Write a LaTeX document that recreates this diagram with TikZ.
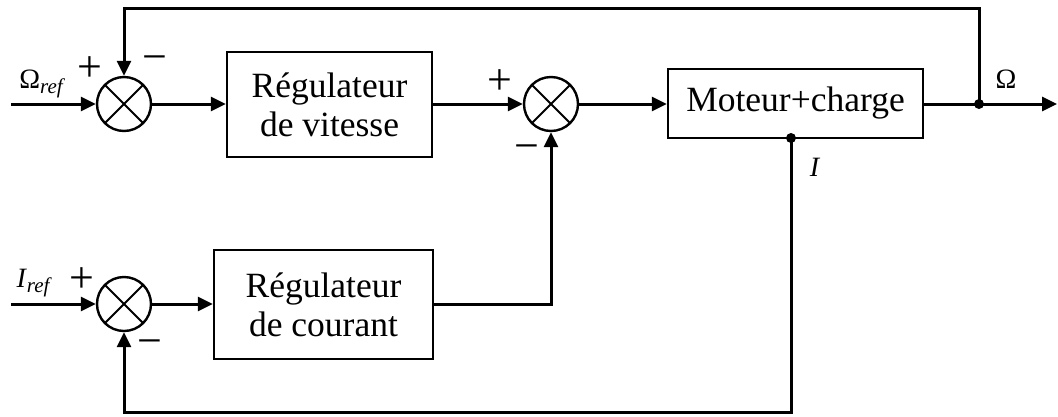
\documentclass[tikz,border=0pt]{standalone}
\usepackage{fontspec}
\setmainfont{Liberation Serif}
\usetikzlibrary{arrows.meta,calc}
\begin{document}
\begin{tikzpicture}[x=1pt,y=-1pt,
  blk/.style={draw,line width=2.4pt,inner sep=0pt,font=\fontsize{35.5}{39}\selectfont,align=center},
  sumc/.style={draw,line width=2.4pt,circle,minimum size=54pt,inner sep=0pt,
    path picture={\draw[line width=2pt] (path picture bounding box.north west)--(path picture bounding box.south east)
      (path picture bounding box.north east)--(path picture bounding box.south west);}},
  con/.style={line width=3pt},
  arr/.style={con,-{Triangle[length=15pt,width=14pt]}},
  sgn/.style={font=\fontsize{44}{44}\selectfont,inner sep=0pt},
  lbl/.style={font=\fontsize{28}{28}\selectfont,inner sep=0pt},
  jdot/.style={circle,fill,minimum size=10pt,inner sep=0pt}]
\useasboundingbox (0,0) rectangle (1058,416);
% sum junctions
\node[sumc] (s1) at (124,104) {};
\node[sumc] (s2) at (551,104) {};
\node[sumc] (s3) at (124,304) {};
% blocks
\node[blk,minimum width=205pt,minimum height=105pt] (b1) at (329.5,104.5) {Régulateur\\de vitesse};
\node[blk,minimum width=255pt,minimum height=69pt] (m) at (795.5,103.5) {Moteur+charge};
\node[blk,minimum width=219pt,minimum height=109pt] (b2) at (323.5,304.5) {Régulateur\\de courant};
% coordinates
\coordinate (in1) at (11,104);
\coordinate (in3) at (11,304);
\node[jdot] (j) at (979,104) {};
\coordinate (out) at (1057,104);
\node[jdot] (d) at (791,138) {};
\coordinate (top) at (979,8);
\coordinate (bot) at (791,412);
% connectors
\draw[arr] (in1) -- (s1.west);
\draw[arr] (s1.east) -- (s1.east -| b1.west);
\draw[arr] (s2.west -| b1.east) -- (s2.west);
\draw[arr] (s2.east) -- (s2.east -| m.west);
\draw[con] (j.center -| m.east) -- (j.center);
\draw[arr] (j.center) -- (out);
\draw[arr] (j.center) -- (top) -| (s1.north);
\draw[arr] (in3) -- (s3.west);
\draw[arr] (s3.east) -- (s3.east -| b2.west);
\draw[arr] (s3.east -| b2.east) -| (s2.south);
\draw[arr] (d.center) -- (bot) -| (s3.south);
% labels
\node[lbl] (l1) at (41,84) {Ω\textit{\fontsize{21}{21}\selectfont\raisebox{-5pt}{ref}}};
\node[lbl] (l2) at (33,283) {\textit{I}\textit{\fontsize{21}{21}\selectfont\raisebox{-5pt}{ref}}};
\node[lbl] (l3) at (1006,79) {Ω};
\node[lbl] (l4) at (815,167) {\textit{I}};
\node[sgn] (p1) at (90,69) {+};
\node[sgn] (n1) at (155,64) {−};
\node[sgn] (p2) at (500,82) {+};
\node[sgn] (n2) at (527,153) {−};
\node[sgn] (p3) at (82,280) {+};
\node[sgn] (n3) at (150,348) {−};
\end{tikzpicture}
\end{document}
